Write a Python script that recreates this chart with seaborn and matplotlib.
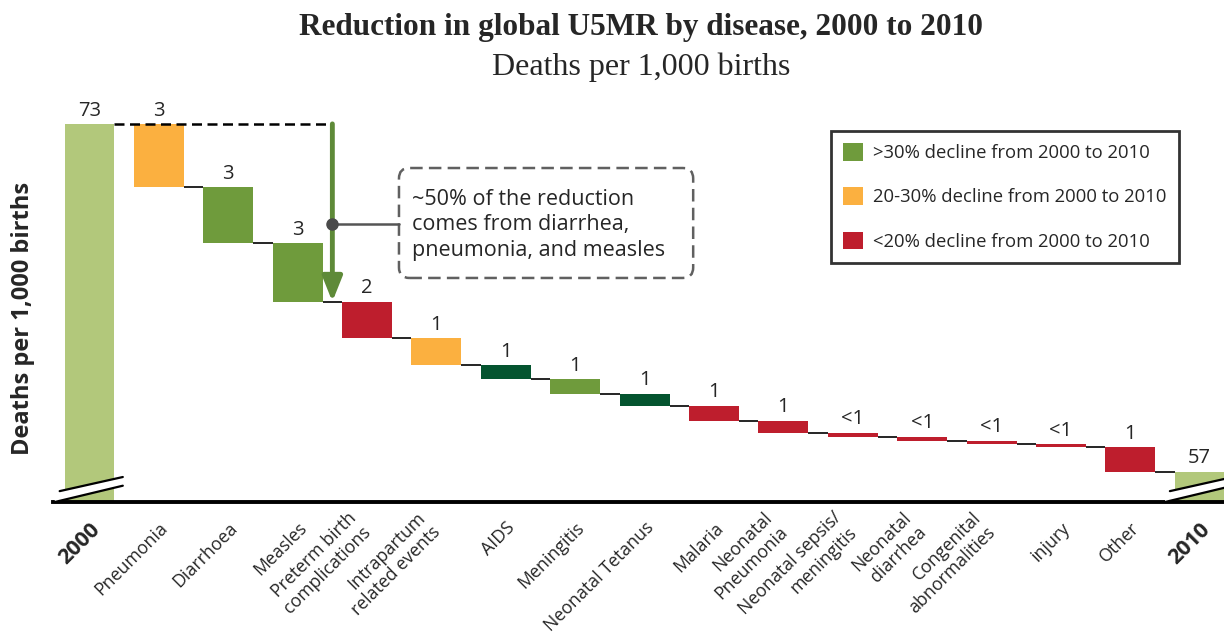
import numpy as np
import pandas as pd
import seaborn as sns
import matplotlib.pyplot as plt
import matplotlib.transforms as mtransforms
from matplotlib.patches import Patch, Polygon, FancyBboxPatch

# data
causes = ["2000", "Pneumonia", "Diarrhoea", "Measles", "Preterm birth\ncomplications",
          "Intrapartum\nrelated events", "AIDS", "Meningitis", "Neonatal Tetanus", "Malaria",
          "Neonatal\nPneumonia", "Neonatal sepsis/\nmeningitis", "Neonatal\ndiarrhea",
          "Congenital\nabnormalities", "injury", "Other", "2010"]
start_value = 73
declines = [2.9, 2.6, 2.68, 1.68, 1.24, 0.64, 0.68, 0.55, 0.68, 0.56, 0.18, 0.18, 0.18, 0.12, 1.13]
value_labels = ["73", "3", "3", "3", "2", "1", "1", "1", "1", "1", "1",
                "<1", "<1", "<1", "<1", "1", "57"]

LIGHT = "#b2c87b"
GREEN = "#6f9b3c"
DARK = "#04542f"
ORANGE = "#fbb040"
RED = "#be1e2d"
bar_colors = [LIGHT, ORANGE, GREEN, GREEN, RED, ORANGE, DARK, GREEN, DARK, RED,
              RED, RED, RED, RED, RED, RED, LIGHT]
legend_labels = [">30% decline from 2000 to 2010", "20-30% decline from 2000 to 2010",
                 "<20% decline from 2000 to 2010"]
legend_colors = [GREEN, ORANGE, RED]

# waterfall levels
after = start_value - np.cumsum(declines)
before = np.r_[start_value, after[:-1]]
end_value = after[-1]
top = np.r_[start_value, before, end_value]
bottom = np.r_[0, after, 0]
df = pd.DataFrame({"cause": causes, "height": top - bottom})

sns.set_style("white")
plt.rcParams["font.family"] = ["Open Sans", "DejaVu Sans"]

fig = plt.figure(figsize=(12.24, 6.35), dpi=100)
ax = fig.add_axes([53 / 1224, 133 / 635, 1171 / 1224, 402 / 635])

sns.barplot(data=df, x="cause", y="height", hue="cause", order=causes, hue_order=causes,
            palette=dict(zip(causes, bar_colors)), width=0.72, linewidth=0,
            saturation=1, legend=False, ax=ax)
bars = sorted(ax.patches, key=lambda p: p.get_x())
for p, b in zip(bars, bottom):
    p.set_y(b)

ax.set_xlim(-0.526, 16.35)
ax.set_ylim(55.6, 74.1)

# connectors
half = 0.36
ax.hlines(start_value, half, 3.5, color="black", lw=1.8, linestyles=(0, (4, 2.2)), zorder=3)
for i in range(1, 16):
    ax.hlines(after[i - 1], i + half, i + 1 - half, color="black", lw=1.2, zorder=3)

# value labels
for i, lab in enumerate(value_labels):
    ax.annotate(lab, (i, top[i]), xytext=(0, 6), textcoords="offset points",
                ha="center", va="baseline", fontsize=14.5)

# arrow for the big three
ax.annotate("", xy=(3.5, after[2]), xytext=(3.5, start_value),
            arrowprops=dict(arrowstyle="-|>,head_width=0.3,head_length=0.75",
                            color="#5e8a38", lw=3.5, shrinkA=0, shrinkB=0,
                            mutation_scale=20), zorder=4)
dot_y = 68.39
box_x0, box_x1 = 4.46, 8.70
box_y0, box_y1 = 65.91, 70.97
ax.plot([3.5, box_x0], [dot_y, dot_y], color="#555555", lw=1.8, zorder=5)
ax.plot(3.5, dot_y, "o", ms=8, color="#4a4a4a", zorder=6)
ax.add_patch(FancyBboxPatch((box_x0, box_y0), box_x1 - box_x0, box_y1 - box_y0,
                            boxstyle="round,pad=0,rounding_size=0.15", mutation_aspect=3.19,
                            fc="white", ec="#606060", lw=1.8, linestyle=(0, (5, 2.5)),
                            zorder=4))
ax.text(4.647, 68.35, "~50% of the reduction\ncomes from diarrhea,\npneumonia, and measles",
        ha="left", va="center", fontsize=15.5, linespacing=1.3, zorder=5)

# axis break marks on the 2000 and 2010 bars
def axis_break(i):
    x0, x1 = i - 0.5, i + 0.48
    base = 55.6
    ax.add_patch(Polygon([(x0, base), (x1, base + 0.75), (x1, base + 1.15), (x0, base + 0.45)],
                         closed=True, fc="white", ec="none", clip_on=False, zorder=3))
    ax.plot([x0, x1], [base, base + 0.75], color="black", lw=1.6, clip_on=False, zorder=3)
    ax.plot([x0 + 0.07, x1], [base + 0.5, base + 1.15], color="black", lw=1.6,
            clip_on=False, zorder=3)

axis_break(0)
axis_break(16)

# axes styling
sns.despine(ax=ax, left=True)
ax.spines["bottom"].set_linewidth(2.8)
ax.spines["bottom"].set_color("black")
ax.set_yticks([])
ax.set_xlabel("")
ax.set_ylabel("")
ax.set_xticks(range(len(causes)))
ax.set_xticklabels(causes, rotation=45, ha="right", va="top", rotation_mode="anchor",
                   fontsize=12.8)
ax.tick_params(axis="x", length=0, pad=12)
shift = mtransforms.ScaledTranslation(-0.2, 0.1, fig.dpi_scale_trans)
for lbl in ax.get_xticklabels():
    if "\n" in lbl.get_text():
        lbl.set_transform(lbl.get_transform() + shift)
    if lbl.get_text() in ("2000", "2010"):
        lbl.set_fontweight("bold")
        lbl.set_fontsize(15.5)

# legend
handles = [Patch(facecolor=c, edgecolor="none") for c in legend_colors]
leg = ax.legend(handles, legend_labels, loc="upper right",
                bbox_to_anchor=(1179 / 1224, 1 - 131 / 635), bbox_transform=fig.transFigure,
                fontsize=13.3, frameon=True, fancybox=False, handlelength=1.08,
                handleheight=1.08, handletextpad=0.55, labelspacing=1.37, borderpad=0.65,
                borderaxespad=0)
leg.get_frame().set_edgecolor("black")
leg.get_frame().set_linewidth(2)

# titles and y label
fig.text(641 / 1224, 1 - 28 / 635, "Reduction in global U5MR by disease, 2000 to 2010",
         ha="center", va="center", fontsize=22.5, fontweight="bold", family="Liberation Serif")
fig.text(641 / 1224, 1 - 67 / 635, "Deaths per 1,000 births", ha="center", va="center",
         fontsize=23, family="Liberation Serif")
fig.text(23 / 1224, 1 - 318 / 635, "Deaths per 1,000 births", rotation=90, ha="center",
         va="center", fontsize=17, fontweight="bold")

fig.savefig("out.png", dpi=100)
